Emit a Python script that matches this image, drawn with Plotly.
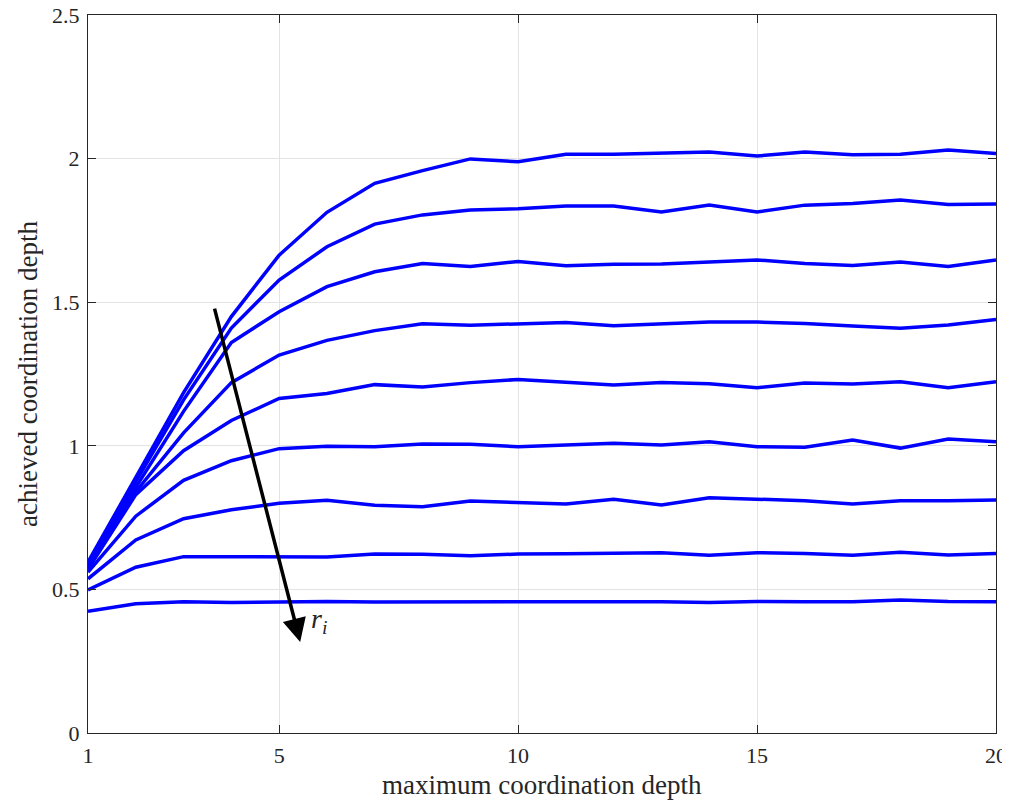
import plotly.graph_objects as go

depth = list(range(1, 21))

r1 = [0.595, 0.89, 1.185, 1.45, 1.664, 1.813, 1.914, 1.958, 1.999, 1.989, 2.015, 2.015, 2.018, 2.023, 2.009, 2.023, 2.013, 2.015, 2.030, 2.018]
r2 = [0.590, 0.875, 1.16, 1.41, 1.577, 1.693, 1.772, 1.804, 1.821, 1.825, 1.835, 1.835, 1.814, 1.838, 1.814, 1.838, 1.844, 1.856, 1.840, 1.842]
r3 = [0.583, 0.855, 1.12, 1.36, 1.467, 1.554, 1.606, 1.635, 1.624, 1.642, 1.627, 1.632, 1.633, 1.641, 1.647, 1.635, 1.628, 1.640, 1.624, 1.647]
r4 = [0.577, 0.84, 1.045, 1.22, 1.316, 1.367, 1.401, 1.425, 1.420, 1.424, 1.429, 1.418, 1.424, 1.431, 1.431, 1.426, 1.417, 1.409, 1.421, 1.440]
r5 = [0.570, 0.83, 0.983, 1.088, 1.165, 1.182, 1.213, 1.205, 1.220, 1.231, 1.221, 1.212, 1.220, 1.216, 1.202, 1.219, 1.215, 1.223, 1.202, 1.223]
r6 = [0.560, 0.755, 0.880, 0.948, 0.990, 0.998, 0.997, 1.006, 1.005, 0.997, 1.003, 1.009, 1.003, 1.014, 0.997, 0.995, 1.020, 0.992, 1.024, 1.014]
r7 = [0.537, 0.672, 0.746, 0.777, 0.800, 0.810, 0.793, 0.788, 0.808, 0.803, 0.797, 0.814, 0.794, 0.819, 0.814, 0.809, 0.797, 0.809, 0.809, 0.811]
r8 = [0.498, 0.577, 0.614, 0.614, 0.614, 0.613, 0.623, 0.622, 0.617, 0.623, 0.624, 0.625, 0.628, 0.619, 0.628, 0.625, 0.619, 0.629, 0.620, 0.625]
r9 = [0.424, 0.450, 0.457, 0.454, 0.456, 0.458, 0.456, 0.457, 0.459, 0.457, 0.457, 0.458, 0.457, 0.454, 0.458, 0.457, 0.457, 0.463, 0.458, 0.457]

series = [r1, r2, r3, r4, r5, r6, r7, r8, r9]

x_ticks = [1, 5, 10, 15, 20]
y_ticks = [0, 0.5, 1, 1.5, 2, 2.5]
y_tick_text = ["0", "0.5", "1", "1.5", "2", "2.5"]

FONT = "Liberation Serif"

fig = go.Figure()
for s in series:
    fig.add_trace(go.Scatter(x=depth, y=s, mode="lines",
                             line=dict(color="rgb(0,0,255)", width=3.5),
                             showlegend=False, hoverinfo="skip"))

axis_common = dict(showline=True, linecolor="#262626", linewidth=1, mirror="ticks",
                   ticks="inside", ticklen=8, tickcolor="#262626",
                   showgrid=True, gridcolor="#e3e3e3", gridwidth=1, zeroline=False,
                   automargin=False, ticklabelstandoff=3, ticklabeloverflow="allow",
                   tickfont=dict(family=FONT, size=22, color="#262626"))

fig.update_xaxes(range=[1, 20], tickvals=x_ticks, ticktext=[str(v) for v in x_ticks],
                 **axis_common)
fig.update_yaxes(range=[0, 2.5], tickvals=y_ticks, ticktext=y_tick_text,
                 title=dict(text="achieved coordination depth", standoff=6,
                            font=dict(family=FONT, size=27, color="#262626")),
                 **axis_common)

# x-axis title placed as paper text below the tick labels
fig.add_annotation(x=0.5, y=-0.072, xref="paper", yref="paper", showarrow=False,
                   text="maximum coordination depth", xanchor="center", yanchor="middle",
                   font=dict(family=FONT, size=27, color="#262626"))

fig.add_annotation(x=5.44, y=0.317, ax=3.64, ay=1.483, xref="x", yref="y",
                   axref="x", ayref="y", showarrow=True, arrowhead=2, arrowsize=1.35,
                   arrowwidth=3.5, arrowcolor="black", text="")
fig.add_annotation(x=5.62, y=0.39, xref="x", yref="y", showarrow=False,
                   text="<i>r</i><sub><i>i</i></sub>", xanchor="left",
                   font=dict(family=FONT, size=28, color="#262626"))

# the page body adds an 8px margin, so the figure is offset to line up with the window
fig.update_layout(width=1002, height=794, plot_bgcolor="white", paper_bgcolor="white",
                  margin=dict(l=80, r=14, t=7, b=69))

fig.write_html("out.html")
